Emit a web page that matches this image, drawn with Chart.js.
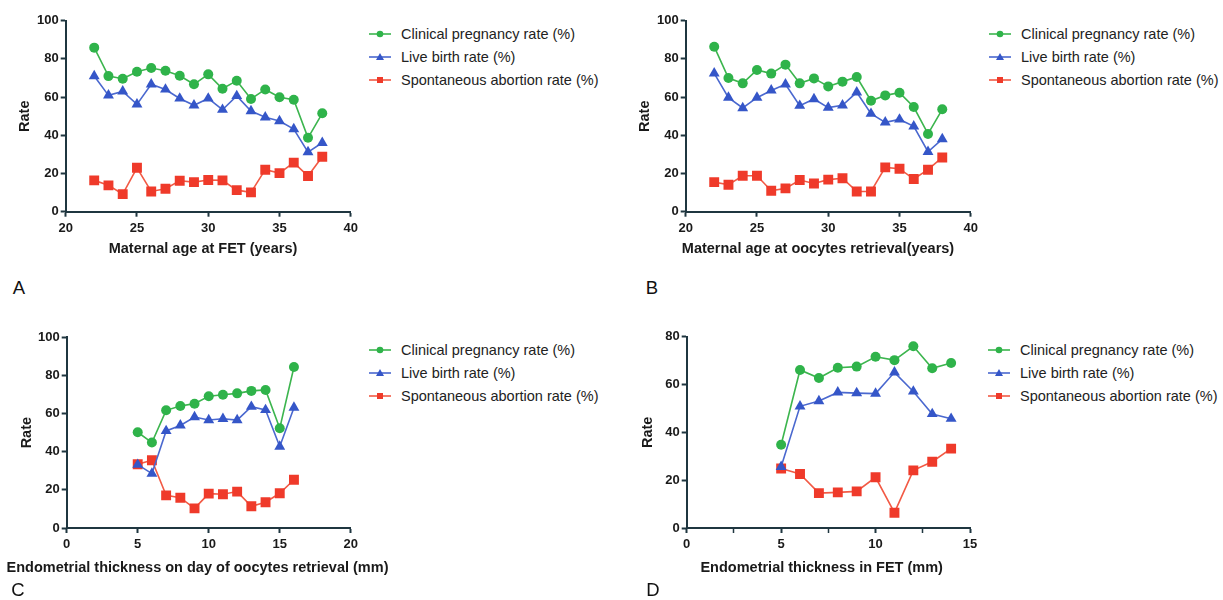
<!DOCTYPE html>
<html><head><meta charset="utf-8">
<script src="https://cdn.jsdelivr.net/npm/chart.js@4.4.1/dist/chart.umd.min.js"></script>
<style>
html,body{margin:0;padding:0;background:#fff;}
body{width:1223px;height:600px;overflow:hidden;position:relative;font-family:"Liberation Sans",Arial,sans-serif;}
.panel{position:absolute;}
.leg{position:absolute;font-size:14.5px;color:#222;}
.leg .row{height:22.8px;display:flex;align-items:center;white-space:nowrap;}
.leg svg{margin-right:10px;flex:none;}
.letter{position:absolute;font-size:18.5px;color:#111;line-height:1;transform:translate(-50%,-50%);}
.xt{position:absolute;font-size:14.5px;font-weight:bold;color:#1a1a1a;line-height:1;white-space:nowrap;transform:translate(-50%,-50%);}
</style></head><body>
<div class="panel" id="pA"><canvas id="cA"></canvas></div>
<div class="panel" id="pB"><canvas id="cB"></canvas></div>
<div class="panel" id="pC"><canvas id="cC"></canvas></div>
<div class="panel" id="pD"><canvas id="cD"></canvas></div>
<div class="leg" id="lA"></div><div class="leg" id="lB"></div>
<div class="leg" id="lC"></div><div class="leg" id="lD"></div>
<div class="xt" id="tA"></div><div class="xt" id="tB"></div>
<div class="xt" id="tC"></div><div class="xt" id="tD"></div>
<div class="letter" style="left:19px;top:288px">A</div>
<div class="letter" style="left:652px;top:288px">B</div>
<div class="letter" style="left:18px;top:590px">C</div>
<div class="letter" style="left:653px;top:590px">D</div>
<script>
// ---- Data ----
const seriesNames = ["Clinical pregnancy rate (%)", "Live birth rate (%)", "Spontaneous abortion rate (%)"];

const ageFET = [22,23,24,25,26,27,28,29,30,31,32,33,34,35,36,37,38];
const A_clinical = [85.9,71.0,69.6,73.3,75.2,73.8,71.2,66.7,71.9,64.4,68.6,59.0,64.0,59.9,58.6,38.7,51.5];
const A_live     = [71.0,60.9,63.0,56.2,66.7,64.0,59.3,55.7,59.3,53.4,60.6,52.7,49.4,47.5,43.3,31.2,36.1];
const A_abortion = [16.4,13.8,9.2,23.0,10.6,12.0,16.2,15.5,16.6,16.4,11.3,10.1,22.0,20.2,25.7,18.7,28.8];

const ageRetrieval = [22,23,24,25,26,27,28,29,30,31,32,33,34,35,36,37,38];
const B_clinical = [86.4,70.0,67.2,74.2,72.3,77.0,67.2,69.8,65.6,68.1,70.5,58.1,60.9,62.3,54.8,40.7,53.6];
const B_live     = [72.4,59.7,54.3,59.7,63.5,66.7,55.5,59.0,54.5,55.7,62.5,51.3,46.8,48.3,44.7,31.4,38.0];
const B_abortion = [15.5,14.1,18.8,18.8,11.0,12.2,16.6,14.8,16.8,17.5,10.6,10.6,23.2,22.5,17.1,22.0,28.4];

const thickRetrieval = [5,6,7,8,9,10,11,12,13,14,15,16];
const C_clinical = [50.2,44.8,61.7,64.0,65.2,69.1,69.9,70.6,71.9,72.4,52.3,84.4];
const C_live     = [33.2,28.5,50.9,53.8,58.2,56.6,57.3,56.6,63.6,61.9,42.7,63.1];
const C_abortion = [33.4,35.5,17.1,15.9,10.3,18.0,17.7,19.1,11.4,13.5,18.2,25.3];

const thickFET = [5,6,7,8,9,10,11,12,13,14];
const D_clinical = [34.8,66.1,62.7,67.0,67.5,71.6,70.2,76.0,66.8,69.0];
const D_live     = [25.6,50.9,53.1,56.7,56.4,56.2,65.1,57.1,47.7,45.7];
const D_abortion = [24.9,22.6,14.6,14.9,15.3,21.2,6.4,24.1,27.7,33.2];

const xTitles = ["Maternal age at FET (years)", "Maternal age at oocytes retrieval(years)",
                 "Endometrial thickness on day of oocytes retrieval (mm)", "Endometrial thickness in FET (mm)"];
const yTitle = "Rate";

// ---- Styles ----
const colors = ["#2fb34a", "#3556c8", "#ef3a2a"];
const lineColors = ["#3cb54e", "#4a68cf", "#f25a45"];
const pointStyles = ["circle", "triangle", "rect"];
const pointRadii = [5, 6.3, 7];
const axisColor = "#1f3640";
const TXT = "#1a1a1a";
const FF = '"Liberation Sans", Arial, sans-serif';

function pts(xs, ys){ return xs.map((x,i)=>({x:x, y:ys[i]})); }

function makePanel(id, box, area, xs, sets, xOpt, yOpt, xTitle, xTitlePos, yTitleX){
  const p = document.getElementById('p'+id);
  p.style.left = box.x+'px'; p.style.top = box.y+'px';
  p.style.width = box.w+'px'; p.style.height = box.h+'px';
  const t = document.getElementById('t'+id);
  t.textContent = xTitle; t.style.left = xTitlePos.x+'px'; t.style.top = xTitlePos.y+'px';
  const tFont = 14.5, lh = tFont*1.2;
  const yW = area.L - box.x, xH = box.y + box.h - area.B;
  new Chart(document.getElementById('c'+id), {
    type:'line',
    data:{datasets: sets.map((ys,i)=>({
      label: seriesNames[i], data: pts(xs, ys),
      borderColor: lineColors[i], backgroundColor: colors[i],
      pointBackgroundColor: colors[i], pointBorderColor: colors[i], pointBorderWidth: 0,
      pointStyle: pointStyles[i], pointRadius: pointRadii[i], borderWidth: 1.6, tension: 0
    }))},
    options:{
      responsive:true, maintainAspectRatio:false, animation:false,
      layout:{padding:{left:0, top: area.T - box.y, right: box.x + box.w - area.R, bottom:0}},
      plugins:{legend:{display:false}, tooltip:{enabled:false}},
      scales:{
        x:{type:'linear', min:xOpt.min, max:xOpt.max,
           border:{display:true, color:axisColor, width:2},
           grid:{display:true, drawOnChartArea:false, drawTicks:true, tickLength:5, tickColor:axisColor,
                 tickWidth: (c)=> (c.tick && c.tick.value % xOpt.major !== 0) ? 1.5 : 2},
           ticks:{stepSize:xOpt.step, padding:4, color:TXT, font:{family:FF, size:13, weight:'bold'},
                  maxRotation:0, autoSkip:false,
                  callback:(v)=> (v % xOpt.major === 0) ? String(v) : ''},
           title:{display:false},
           afterFit:(s)=>{ s.height = xH; }
        },
        y:{type:'linear', min:0, max:yOpt.max,
           border:{display:true, color:axisColor, width:2},
           grid:{display:true, drawOnChartArea:false, drawTicks:true, tickLength:5, tickColor:axisColor, tickWidth:2},
           ticks:{stepSize:20, padding:2, color:TXT, font:{family:FF, size:13, weight:'bold'}},
           title:{display:true, text:yTitle, color:TXT, font:{family:FF, size:tFont, weight:'bold'},
                  padding:{top: yTitleX - box.x - lh/2, bottom:0}},
           afterFit:(s)=>{ s.width = yW; }
        }
      }
    }
  });
}

function legendMarker(i){
  const c = colors[i], lc = lineColors[i];
  let m;
  if (i===0) m = `<circle cx="11" cy="6" r="3.3" fill="${c}"/>`;
  else if (i===1) m = `<polygon points="11,2 15,9 7,9" fill="${c}"/>`;
  else m = `<rect x="8" y="3" width="6" height="6" fill="${c}"/>`;
  return `<svg width="22" height="12" viewBox="0 0 22 12"><line x1="0" y1="6" x2="22" y2="6" stroke="${lc}" stroke-width="1.6"/>${m}</svg>`;
}
function makeLegend(id, x, yFirst){
  const el = document.getElementById('l'+id);
  el.style.left = x+'px'; el.style.top = (yFirst - 11.4)+'px';
  el.innerHTML = seriesNames.map((n,i)=>`<div class="row">${legendMarker(i)}<span>${n}</span></div>`).join('');
}

makePanel('A', {x:0,y:0,w:362,h:262}, {L:65.7,T:20.7,R:351,B:211.7}, ageFET,
          [A_clinical,A_live,A_abortion], {min:20,max:40,step:5,major:5}, {max:100}, xTitles[0], {x:203,y:248}, 25);
makePanel('B', {x:620,y:0,w:362,h:262}, {L:685.7,T:20.7,R:971,B:211.7}, ageRetrieval,
          [B_clinical,B_live,B_abortion], {min:20,max:40,step:5,major:5}, {max:100}, xTitles[1], {x:818,y:248}, 645);
makePanel('C', {x:0,y:318,w:362,h:262}, {L:66.7,T:337.3,R:351.7,B:528}, thickRetrieval,
          [C_clinical,C_live,C_abortion], {min:0,max:20,step:5,major:5}, {max:100}, xTitles[2], {x:197.5,y:566.5}, 26.7);
makePanel('D', {x:620,y:318,w:362,h:262}, {L:686.7,T:336.7,R:970,B:528}, thickFET,
          [D_clinical,D_live,D_abortion], {min:0,max:15,step:2.5,major:5}, {max:80}, xTitles[3], {x:821.7,y:566.5}, 648.3);

makeLegend('A', 369, 34);
makeLegend('B', 989, 34);
makeLegend('C', 369, 350);
makeLegend('D', 988, 350);
</script>
</body></html>
